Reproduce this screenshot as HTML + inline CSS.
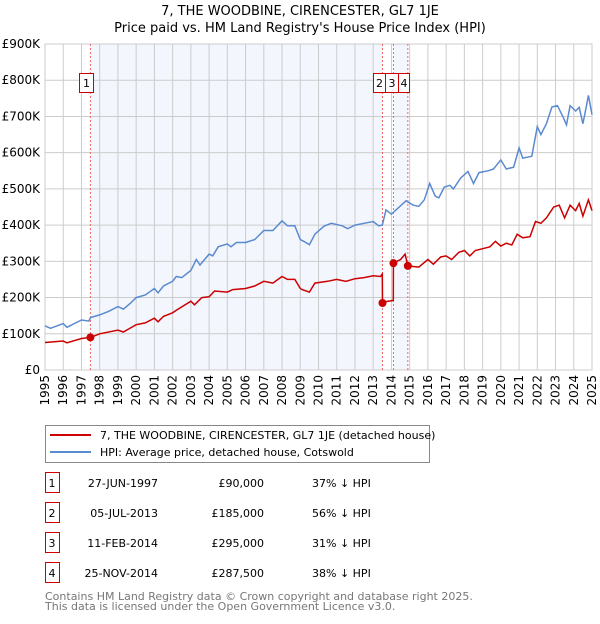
<!DOCTYPE html>
<html><head><meta charset="utf-8"><style>
body{margin:0;background:#fff;font-family:"DejaVu Sans","Liberation Sans",sans-serif;}
svg text{font-family:"DejaVu Sans","Liberation Sans",sans-serif;}
</style></head><body>
<svg id="c" width="600" height="620">
<text x="300" y="15" text-anchor="middle" font-size="13">7, THE WOODBINE, CIRENCESTER, GL7 1JE</text>
<text x="300" y="32" text-anchor="middle" font-size="13">Price paid vs. HM Land Registry's House Price Index (HPI)</text>
<g id="plot"></g>
<g>
<rect x="45.5" y="425.5" width="384" height="37" fill="#fff" stroke="#888"/>
<line x1="50" y1="435" x2="91" y2="435" stroke="#cc0000" stroke-width="2"/>
<text x="100" y="439" font-size="11">7, THE WOODBINE, CIRENCESTER, GL7 1JE (detached house)</text>
<line x1="50" y1="452" x2="91" y2="452" stroke="#5a8ad0" stroke-width="2"/>
<text x="100" y="456" font-size="11">HPI: Average price, detached house, Cotswold</text>
</g>
<g id="tbl" font-size="11"></g>
<text x="45" y="600" font-size="11" fill="#777">Contains HM Land Registry data © Crown copyright and database right 2025.</text>
<text x="45" y="610" font-size="11" fill="#777">This data is licensed under the Open Government Licence v3.0.</text>
</svg>
<script>
const hpiYears=[1995,1995.3,1996,1996.2,1997,1997.4,1997.5,1998,1998.5,1999,1999.3,1999.7,2000,2000.5,2001,2001.2,2001.5,2002,2002.2,2002.5,2003,2003.3,2003.5,2004,2004.2,2004.5,2005,2005.2,2005.5,2006,2006.5,2007,2007.5,2008,2008.3,2008.7,2009,2009.2,2009.5,2009.8,2010.3,2010.7,2011.3,2011.6,2012,2012.5,2013,2013.3,2013.5,2013.7,2014,2014.8,2015.2,2015.5,2015.8,2016.1,2016.4,2016.6,2016.9,2017.2,2017.4,2017.8,2018.2,2018.5,2018.8,2019.3,2019.6,2020,2020.3,2020.7,2021,2021.2,2021.7,2022,2022.2,2022.5,2022.8,2023.1,2023.4,2023.6,2023.8,2024.1,2024.3,2024.5,2024.7,2024.8,2025];
const hpiValues=[122,115,128,118,138,135,145,152,162,175,168,185,200,207,225,213,232,245,258,255,275,305,290,320,315,340,348,340,352,352,360,385,385,412,398,398,360,355,346,375,397,405,398,390,400,405,410,398,400,442,430,467,455,452,470,515,480,475,505,510,500,530,548,515,545,550,555,580,555,560,613,585,590,672,650,680,726,730,700,677,730,715,725,680,730,758,705];
const ppYears=[1995,1996,1996.2,1997,1997.49,1998,1999,1999.3,2000,2000.5,2001,2001.2,2001.5,2002,2002.2,2003,2003.2,2003.6,2004,2004.3,2005,2005.3,2006,2006.5,2007,2007.5,2008,2008.3,2008.7,2009,2009.1,2009.5,2009.8,2010.5,2011,2011.5,2012,2012.5,2013,2013.4,2013.5,2013.51,2013.8,2014.1,2014.11,2014.5,2014.75,2014.9,2015.5,2016,2016.3,2016.7,2017,2017.3,2017.7,2018,2018.3,2018.6,2019,2019.4,2019.7,2020,2020.3,2020.6,2020.9,2021.2,2021.6,2021.9,2022.2,2022.5,2022.9,2023.2,2023.5,2023.8,2024.1,2024.3,2024.5,2024.8,2025];
const ppValues=[76,80,75,87,90,100,110,105,125,130,143,133,148,158,165,190,180,200,202,218,215,222,225,232,245,240,258,250,250,225,222,215,240,245,250,245,252,255,260,258,265,185,190,192,295,305,320,287.5,284,305,292,312,315,305,325,330,315,330,335,340,355,342,350,345,375,365,368,410,405,420,450,455,420,455,440,460,425,470,440];
const saleLabels=["1","2","3","4"];
const saleYears=[1997.49,2013.51,2014.11,2014.9];
const salePrices=[90,185,295,287.5];
const saleDates=["27-JUN-1997","05-JUL-2013","11-FEB-2014","25-NOV-2014"];
const salePriceText=["£90,000","£185,000","£295,000","£287,500"];
const saleHpiText=["37% ↓ HPI","56% ↓ HPI","31% ↓ HPI","38% ↓ HPI"];
const yTicks=[0,100,200,300,400,500,600,700,800,900];
const yTickLabels=["£0","£100K","£200K","£300K","£400K","£500K","£600K","£700K","£800K","£900K"];
const xTicks=[1995,1996,1997,1998,1999,2000,2001,2002,2003,2004,2005,2006,2007,2008,2009,2010,2011,2012,2013,2014,2015,2016,2017,2018,2019,2020,2021,2022,2023,2024,2025];

const X0=45,X1=592,Y0=370,Y1=44;
const xs=y=>X0+(y-1995)/(2025-1995)*(X1-X0);
const ys=v=>Y0-v/900*(Y0-Y1);
const NS="http://www.w3.org/2000/svg";
const plot=document.getElementById('plot');
function mk(tag,at,parent){const e=document.createElementNS(NS,tag);for(const k in at)e.setAttribute(k,at[k]);(parent||plot).appendChild(e);return e;}
for(let i=0;i<saleYears.length;i+=2){
 const a=saleYears[i],b=i+1<saleYears.length?saleYears[i+1]:2025;
 const r=mk('rect',{x:xs(a),y:Y1,width:xs(b)-xs(a),height:Y0-Y1,fill:'#f3f6fd'});
 
 
}
yTicks.forEach((t,i)=>{
 const l=mk('line',{x1:X0,x2:X1,y1:ys(t),y2:ys(t),stroke:'#ccc','stroke-width':1});
 
 
 const tx=mk('text',{x:40,y:ys(t)+4,'text-anchor':'end','font-size':12});
 tx.textContent=yTickLabels[i];
 
 
});
xTicks.forEach(t=>{
 const l=mk('line',{x1:xs(t),x2:xs(t),y1:Y1,y2:Y0,stroke:'#ccc','stroke-width':1});
 
 
 const tx=mk('text',{x:0,y:0,'text-anchor':'end','font-size':12,transform:`translate(${xs(t)+4},375) rotate(-90)`});
 tx.textContent=t;
 
 
});
const bd=mk('rect',{x:X0,y:Y1,width:X1-X0,height:Y0-Y1,fill:'none',stroke:'#ccc'});


saleYears.forEach((s,i)=>{
 const l=mk('line',{x1:xs(s),x2:xs(s),y1:Y1,y2:Y0,stroke:'#e66','stroke-width':1,'stroke-dasharray':'2,2'});
 
 
});
function path(xa,va,color,name){
 const d=xa.map((x,i)=>(i?'L':'M')+xs(x).toFixed(1)+','+ys(va[i]).toFixed(1)).join('');
 const p=mk('path',{d:d,fill:'none',stroke:color,'stroke-width':1.5});
 
 
}
path(hpiYears,hpiValues,'#5a8ad0','hpi-line');
path(ppYears,ppValues,'#cc0000','price-paid-line');
saleYears.forEach((s,i)=>{
 const c=mk('circle',{cx:xs(s),cy:ys(salePrices[i]),r:4,fill:'#cc0000'});
 
 
});
const boxX=[79,373,385,398];
const boxW=[14,12,13,11];
saleLabels.forEach((lb,i)=>{
 const g=mk('g',{});
 
 
 mk('rect',{x:boxX[i]+0.5,y:73.5,width:boxW[i],height:19,fill:'#fff',stroke:'#cc0000'},g);
 const t=mk('text',{x:boxX[i]+0.5+boxW[i]/2,y:87,'text-anchor':'middle','font-size':11},g);
 t.textContent=lb;
});
const tbl=document.getElementById('tbl');
saleLabels.forEach((lb,i)=>{
 const y=483+i*30;
 const g=mk('g',{},tbl);
 
 
 mk('rect',{x:45.5,y:y-10.5,width:14,height:20,fill:'#fff',stroke:'#cc0000'},g);
 const cols=[[52,lb,'middle'],[158,saleDates[i],'end'],[264,salePriceText[i],'end'],[312,saleHpiText[i],'start']];
 cols.forEach(c=>{const t=mk('text',{x:c[0],y:y+4,'text-anchor':c[2]},g);t.textContent=c[1];});
});
</script>
</body></html>
